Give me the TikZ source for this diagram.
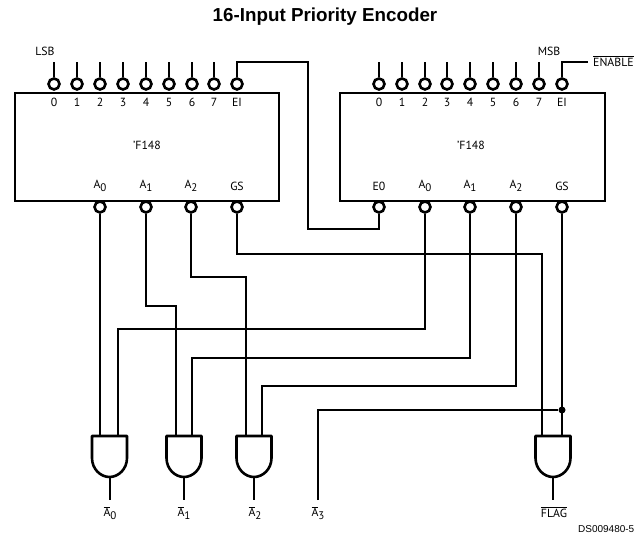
\documentclass[tikz,border=0pt]{standalone}
\usepackage{fontspec}
\setmainfont{PT Sans}
\newfontfamily\titlefont{Liberation Sans}
\newfontfamily\codefont{Liberation Sans}
\newcommand{\subd}[1]{\raisebox{-3pt}{\fontsize{11}{12}\selectfont #1}}
\newcommand{\Asub}[1]{A\subd{#1}}
\newcommand{\Abar}[1]{$\overline{\mbox{A}}$\subd{#1}}
\newcommand{\andgate}[2]{%
  \draw[gateline,line join=round,shift={(#2,456)}] (-17.5,-20) -- (17.5,-20) -- (17.5,2)
    .. controls (17.5,13) and (9,21) .. (0,21)
    .. controls (-9,21) and (-17.5,13) .. (-17.5,2) -- cycle;
  \coordinate (#1-o) at (#2,477);
  \coordinate (#1-e) at (#2,500);
  \draw[wire] (#1-o) -- (#1-e);}
\tikzset{
  x=1pt,y=-1pt,
  chip/.style={draw,line width=2.4pt,minimum width=264pt,minimum height=108pt,inner sep=0pt,anchor=north west},
  pinc/.style={circle,draw,line width=2.6pt,fill=white,minimum size=11pt,inner sep=0pt},
  wire/.style={line width=2pt,line join=miter},
  gateline/.style={line width=2.6pt},
  lab/.style={font=\fontsize{11.8}{13}\selectfont,inner sep=0pt},
  dotj/.style={circle,fill=black,minimum size=7pt,inner sep=0pt},
}
\begin{document}
\begin{tikzpicture}
\useasboundingbox (0,0) rectangle (635,537);
\node[font=\titlefont\bfseries\fontsize{18.8}{20}\selectfont,inner sep=0pt] (title) at (325,17) {16-Input Priority Encoder};
\node[chip] (L) at (14,92) {};
\node[chip,minimum width=265pt] (R) at (339,92) {};
\node[lab] (Lname) at (147,145) {'F148};
\node[lab] (Rname) at (471,145) {'F148};
% left chip pins
\foreach \n/\x/\t in {0/54/0,1/77/1,2/100/2,3/123/3,4/146/4,5/169/5,6/192/6,7/214/7,8/237/EI}{
  \node[pinc] (lt\n) at (\x,84) {};
  \node[lab] (ltl\n) at (\x,102.5) {\t};
}
\foreach \n/\x in {0/54,1/77,2/100,3/123,4/146,5/169,6/192,7/214}{
  \coordinate (lte\n) at (\x,62);
  \draw[wire] (lt\n) -- (lte\n);
}
% right chip pins
\foreach \n/\x/\t in {0/379/0,1/402/1,2/425/2,3/447/3,4/470/4,5/493/5,6/516/6,7/539/7,8/562/EI}{
  \node[pinc] (rt\n) at (\x,84) {};
  \node[lab] (rtl\n) at (\x,102.5) {\t};
}
\foreach \n/\x in {0/379,1/402,2/425,3/447,4/470,5/493,6/516,7/539}{
  \coordinate (rte\n) at (\x,62);
  \draw[wire] (rt\n) -- (rte\n);
}
% bottom pins
\foreach \n/\x/\t in {a/100/\Asub0,b/146/\Asub1,c/191/\Asub2,g/237/GS}{
  \node[pinc] (lb\n) at (\x,207) {};
  \node[lab] (lbl\n) at (\x,186) {\t};
}
\foreach \n/\x/\t in {e/379/E0,a/425/\Asub0,b/470/\Asub1,c/516/\Asub2,g/562/GS}{
  \node[pinc] (rb\n) at (\x,207) {};
  \node[lab] (rbl\n) at (\x,186) {\t};
}
\node[lab] (lsb) at (45,51) {LSB};
\node[lab] (msb) at (549,51) {MSB};
\node[lab,anchor=west] (en) at (593,61) {$\overline{\mbox{ENABLE}}$};
% gates
\andgate{g1}{109.5}
\andgate{g2}{184}
\andgate{g3}{254}
\andgate{g4}{553}
\foreach \g/\xa/\xb in {g1/100/118,g2/176/192,g3/246/262,g4/542/562}{
  \coordinate (\g-a) at (\xa,436);
  \coordinate (\g-b) at (\xb,436);
}
% output labels
\node[lab] (o1) at (110,513) {\Abar0};
\node[lab] (o2) at (184,513) {\Abar1};
\node[lab] (o3) at (255,513) {\Abar2};
\node[lab] (o4) at (318,513) {\Abar3};
\node[lab] (o5) at (554,512) {$\overline{\mbox{FLAG}}$};
\node[font=\codefont\fontsize{10}{12}\selectfont,inner sep=0pt,anchor=east] (code) at (634.5,529) {DS009480-5};
% routing
\coordinate (ei1) at (308,62);
\coordinate (ei2) at (308,229);
\draw[wire] (lt8) |- (ei1) -- (ei2) -| (rbe);
\coordinate (enw) at (588,62);
\draw[wire] (rt8) |- (enw);
\draw[wire] (lba) -- (g1-a);
\coordinate (w1) at (146,306);
\draw[wire] (lbb) |- (w1 -| g2-a) -- (g2-a);
\coordinate (w2) at (191,277);
\draw[wire] (lbc) |- (w2 -| g3-a) -- (g3-a);
\coordinate (w3) at (237,254);
\draw[wire] (lbg) |- (w3 -| g4-a) -- (g4-a);
\coordinate (w4) at (425,329);
\draw[wire] (rba) |- (w4 -| g1-b) -- (g1-b);
\coordinate (w5) at (470,358);
\draw[wire] (rbb) |- (w5 -| g2-b) -- (g2-b);
\coordinate (w6) at (516,386);
\draw[wire] (rbc) |- (w6 -| g3-b) -- (g3-b);
\draw[wire] (rbg) -- (g4-b);
\node[dotj] (dot) at (562,410) {};
\coordinate (a3e) at (318,500);
\draw[wire] (a3e) |- (dot);
\end{tikzpicture}
\end{document}
